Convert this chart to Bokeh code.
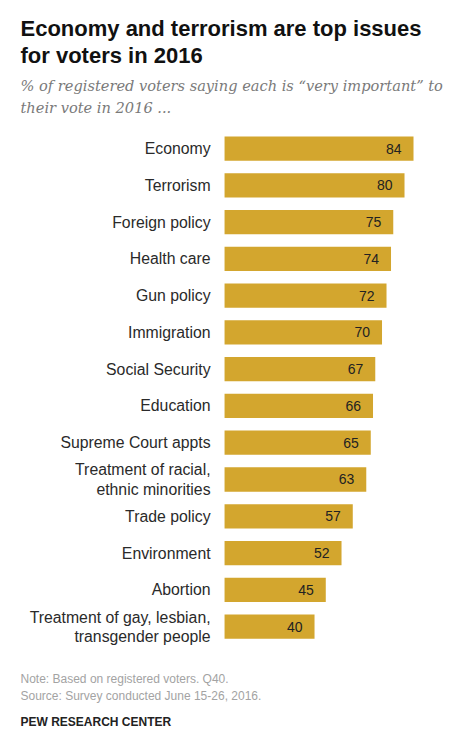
from bokeh.plotting import figure
from bokeh.models import Range1d, Label, ColumnDataSource
from bokeh.core.properties import value
from bokeh.embed import file_html
from bokeh.resources import INLINE

# ---- data ----
issues = ["Economy", "Terrorism", "Foreign policy", "Health care", "Gun policy",
          "Immigration", "Social Security", "Education", "Supreme Court appts",
          "Treatment of racial,\nethnic minorities", "Trade policy", "Environment",
          "Abortion", "Treatment of gay, lesbian,\ntransgender people"]
pct = [84, 80, 75, 74, 72, 70, 67, 66, 65, 63, 57, 52, 45, 40]

title_lines = ["Economy and terrorism are top issues", "for voters in 2016"]
subtitle_lines = ["% of registered voters saying each is \u201cvery important\u201d to",
                  "their vote in 2016 ..."]
note_lines = ["Note: Based on registered voters. Q40.",
              "Source: Survey conducted June 15-26, 2016."]
credit = "PEW RESEARCH CENTER"

W, H = 458, 740
BAR = "#d3a62e"

rows = list(range(len(issues)))
src = ColumnDataSource(dict(row=rows, pct=pct, issue=issues,
                            lab=[str(v) for v in pct],
                            zero=[0] * len(pct)))

p = figure(width=W, height=H, output_backend="svg", toolbar_location=None,
           x_range=Range1d(-99.6, 104.0), y_range=Range1d(16.1, -4.03),
           x_axis_location=None, y_axis_location=None,
           min_border=0, min_border_left=0, min_border_right=0,
           min_border_top=0, min_border_bottom=0)
p.grid.visible = False
p.outline_line_color = None
p.background_fill_color = "white"
p.border_fill_color = "white"

p.hbar(y="row", left="zero", right="pct", height=0.66, source=src,
       fill_color=BAR, line_color=None)

# values inside bars
p.text(x="pct", y="row", text="lab", source=src, x_offset=-12,
       text_align="right", text_baseline="middle",
       text_font=value("Liberation Sans"), text_font_size="14px",
       text_color="#222222")

# category labels
p.text(x="zero", y="row", text="issue", source=src, x_offset=-14,
       text_align="right", text_baseline="middle",
       text_font=value("Liberation Sans"), text_font_size="15.8px",
       text_color="#2a2a2a", text_line_height=1.12)

def add_label(txt, baseline_px, size, color, style="normal", font="Liberation Sans"):
    p.add_layout(Label(x=20, y=H - baseline_px, x_units="screen", y_units="screen",
                       text=txt, text_font=font, text_font_size=size,
                       text_color=color, text_font_style=style,
                       text_baseline="alphabetic", text_align="left"))

add_label(title_lines[0], 28, "22px", "#111111", "bold")
add_label(title_lines[1], 55, "22px", "#111111", "bold")
add_label(subtitle_lines[0], 85, "14.6px", "#7a7a7a", "italic", "DejaVu Serif")
add_label(subtitle_lines[1], 107, "14.6px", "#7a7a7a", "italic", "DejaVu Serif")
add_label(note_lines[0], 678, "12px", "#a3a3a3")
add_label(note_lines[1], 695, "12px", "#a3a3a3")
add_label(credit, 721, "12px", "#222222", "bold")

open("out.html", "w").write(file_html(p, INLINE))
